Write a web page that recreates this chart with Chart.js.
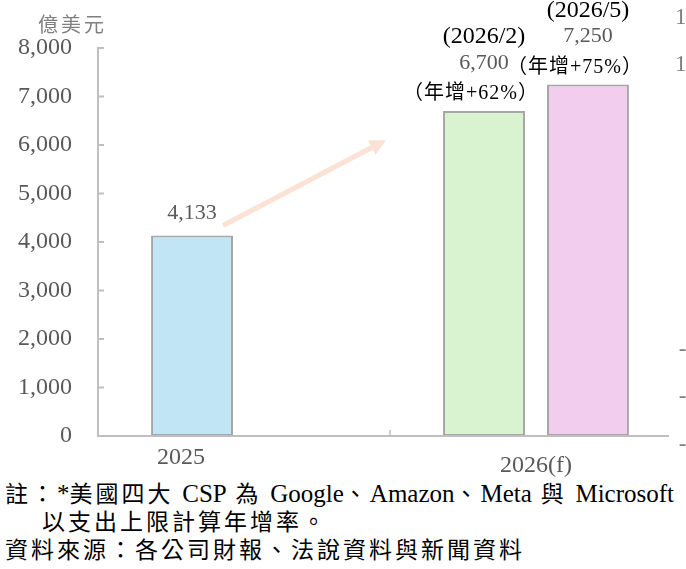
<!DOCTYPE html>
<html lang="zh-Hant">
<head>
    <meta charset="UTF-8">
    <meta name="viewport" content="width=device-width, initial-scale=1.0">
    <title>美國四大CSP資本支出</title>
    <script src="https://cdn.jsdelivr.net/npm/chart.js"></script>
    <style>
        body {
            margin: 0;
            background-color: #fff;
            font-family: 'Liberation Serif', 'Noto Sans CJK TC', serif;
        }

        .chart-box {
            position: relative;
            width: 686px;
            height: 480px;
        }

        .note {
            font-size: 23px;
            line-height: 28px;
            color: #000;
            letter-spacing: 3px;
            white-space: nowrap;
            padding-left: 5px;
        }

        .note .en {
            font-size: 25px;
            letter-spacing: 0;
        }

        .indent {
            padding-left: 42px;
        }
    </style>
</head>
<body>

    <div class="chart-box">
        <canvas id="capexChart"></canvas>
    </div>
    <div class="note">註：<span class="en">*</span>美國四大 <span class="en">CSP</span> 為 <span class="en">Google</span>、<span class="en">Amazon</span>、<span class="en">Meta</span> 與 <span class="en">Microsoft</span></div>
    <div class="note indent">以支出上限計算年增率。</div>
    <div class="note">資料來源：各公司財報、法說資料與新聞資料</div>

    <script>
        // 資料
        const xLabels = ['2025', '2026(f)'];
        const capexFirst = [4133, 6700];      // 2025 實績、2026/2 預估
        const capexLatest = [null, 7250];     // 2026/5 預估
        const dateFirst = ['', '(2026/2)'];
        const dateLatest = ['', '(2026/5)'];
        const growthFirst = ['', '（年增+62%）'];
        const growthLatest = ['', '（年增+75%）'];
        const yMin = 0, yMax = 8000, yStep = 1000;
        const unitLabel = '億美元';
        // 右側被裁切的另一張圖的刻度
        const sideTicks = [12, 10, 8, 6, 4, 2, -2, -4, -6];

        const serif = "'Liberation Serif', 'Noto Sans CJK TC', serif";
        const cjk = "'Noto Sans CJK TC', sans-serif";
        const gray = '#595959';
        const axisGray = '#bfbfbf';

        // 標註：數值、日期、年增率
        const barNotes = {
            id: 'barNotes',
            afterDatasetsDraw(chart) {
                const ctx = chart.ctx;
                const notes = [[dateFirst, growthFirst], [dateLatest, growthLatest]];
                ctx.save();
                ctx.textAlign = 'center';
                ctx.textBaseline = 'middle';
                chart.data.datasets.forEach((ds, di) => {
                    chart.getDatasetMeta(di).data.forEach((bar, i) => {
                        const v = ds.data[i];
                        if (v === null) return;
                        const date = notes[di][0][i];
                        const growth = notes[di][1][i];
                        ctx.fillStyle = gray;
                        ctx.font = '22px ' + serif;
                        const txt = v.toLocaleString('en-US');
                        if (!growth) {
                            ctx.fillText(txt, bar.x, bar.y - 22);
                            return;
                        }
                        ctx.fillText(txt, bar.x, bar.y - 48);
                        ctx.fillStyle = '#000';
                        ctx.font = '20px ' + serif;
                        ctx.letterSpacing = '1px';
                        ctx.fillText(growth, bar.x - 13, bar.y - 17);
                        ctx.letterSpacing = '0px';
                        ctx.font = '24px ' + serif;
                        ctx.fillText(date, bar.x, bar.y - 74);
                    });
                });
                ctx.restore();
            }
        };

        // 軸線、內側刻度、箭頭、單位
        const axisDecor = {
            id: 'axisDecor',
            afterDraw(chart) {
                const ctx = chart.ctx;
                const xs = chart.scales.x, ys = chart.scales.y;
                const area = chart.chartArea;
                ctx.save();
                ctx.strokeStyle = axisGray;
                ctx.lineWidth = 2;
                // y 軸內側刻度
                ys.ticks.forEach(t => {
                    const py = ys.getPixelForValue(t.value);
                    ctx.beginPath();
                    ctx.moveTo(area.left, py);
                    ctx.lineTo(area.left + 6, py);
                    ctx.stroke();
                });
                // x 軸線
                ctx.beginPath();
                ctx.moveTo(area.left, area.bottom);
                ctx.lineTo(area.right - 13, area.bottom);
                ctx.stroke();
                // 類別分隔刻度
                const sep = (xs.getPixelForValue(0) + xs.getPixelForValue(1)) / 2;
                ctx.lineWidth = 1.5;
                ctx.beginPath();
                ctx.moveTo(sep, area.bottom);
                ctx.lineTo(sep, area.bottom - 6);
                ctx.stroke();

                // 箭頭
                const first = chart.getDatasetMeta(0).data[0];
                const x0 = first.x + 31, y0 = first.y - 10;
                const x1 = sep - 4, y1 = ys.getPixelForValue(6100);
                const ang = Math.atan2(y1 - y0, x1 - x0);
                const head = 16;
                ctx.strokeStyle = '#fbe2d5';
                ctx.fillStyle = '#fbe2d5';
                ctx.lineWidth = 5;
                ctx.beginPath();
                ctx.moveTo(x0, y0);
                ctx.lineTo(x1 - head * Math.cos(ang), y1 - head * Math.sin(ang));
                ctx.stroke();
                ctx.beginPath();
                ctx.moveTo(x1, y1);
                ctx.lineTo(x1 - head * Math.cos(ang) + 8 * Math.sin(ang), y1 - head * Math.sin(ang) - 8 * Math.cos(ang));
                ctx.lineTo(x1 - head * Math.cos(ang) - 8 * Math.sin(ang), y1 - head * Math.sin(ang) + 8 * Math.cos(ang));
                ctx.closePath();
                ctx.fill();

                // 單位
                ctx.fillStyle = '#7f7f7f';
                ctx.font = '20px ' + cjk;
                ctx.letterSpacing = '3px';
                ctx.textAlign = 'left';
                ctx.textBaseline = 'middle';
                ctx.fillText(unitLabel, 38, 24);
                ctx.letterSpacing = '0px';

                // 右側裁切的刻度
                ctx.font = '23px ' + serif;
                ctx.textAlign = 'right';
                sideTicks.forEach(v => {
                    ctx.fillText(String(v), 698, 18 + (12 - v) * 23.7);
                });
                ctx.restore();
            }
        };

        const ctx = document.getElementById('capexChart').getContext('2d');
        const capexChart = new Chart(ctx, {
            type: 'bar',
            data: {
                labels: xLabels,
                datasets: [{
                    label: '支出',
                    data: capexFirst,
                    backgroundColor: ['#c2e5f5', '#d9f2d0'],
                    borderColor: '#a6a6a6',
                    borderWidth: 2,
                    borderSkipped: false
                }, {
                    label: '支出(2026/5)',
                    data: capexLatest,
                    backgroundColor: '#f2cdee',
                    borderColor: '#a6a6a6',
                    borderWidth: 2,
                    borderSkipped: false
                }]
            },
            options: {
                responsive: true,
                maintainAspectRatio: false,
                animation: false,
                locale: 'en-US',
                categoryPercentage: 0.712,
                barPercentage: 0.788,
                layout: { padding: { top: 48, right: 4, left: 0, bottom: 0 } },
                plugins: {
                    legend: { display: false },
                    tooltip: { enabled: false }
                },
                font: { family: serif },
                scales: {
                    x: {
                        grid: { display: false, drawTicks: false },
                        border: { display: false },
                        ticks: {
                            color: gray,
                            padding: 18,
                            maxRotation: 0,
                            autoSkip: false,
                            font: { family: serif, size: 24, lineHeight: '8px' },
                            // 2025 標籤偏左、2026(f) 略低，與原圖一致
                            callback: (v, i) => i === 0 ? xLabels[i] + ' '.repeat(21) : ['', xLabels[i]]
                        },
                        afterFit(s) { s.height = 44; }
                    },
                    y: {
                        min: yMin,
                        max: yMax,
                        grid: { display: false, drawTicks: false },
                        border: { display: true, color: axisGray, width: 2 },
                        ticks: {
                            stepSize: yStep,
                            color: gray,
                            padding: 26,
                            font: { family: serif, size: 24 }
                        },
                        afterFit(s) { s.width = 98; }
                    }
                }
            },
            plugins: [barNotes, axisDecor]
        });
    </script>

</body>
</html>
